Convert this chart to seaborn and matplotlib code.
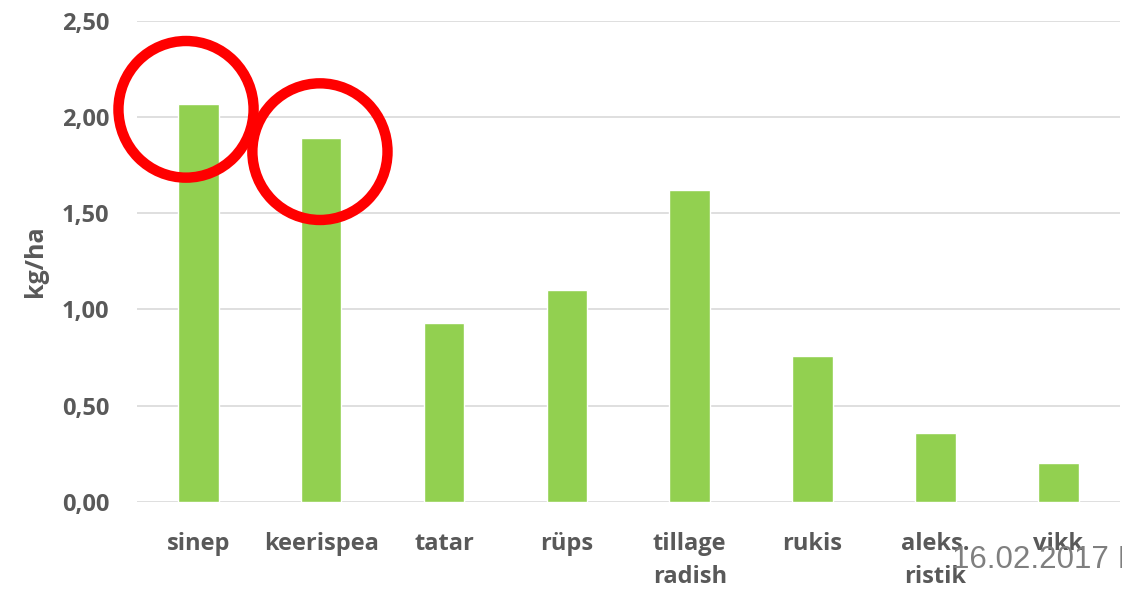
import matplotlib
matplotlib.use("Agg")
import matplotlib.pyplot as plt
from matplotlib.patches import Ellipse
from matplotlib.ticker import FuncFormatter, MultipleLocator
import pandas as pd
import seaborn as sns

# andmed
kultuurid = ["sinep", "keerispea", "tatar", "rüps", "tillage\nradish",
             "rukis", "aleks.\nristik", "vikk"]
kg_ha = [2.07, 1.89, 0.93, 1.10, 1.62, 0.76, 0.36, 0.20]
esile_tostetud = ["sinep", "keerispea"]
kuupaev = "16.02.2017 I"

df = pd.DataFrame({"kultuur": kultuurid, "kg_ha": kg_ha})

sns.set_theme(style="white")
plt.rcParams["font.family"] = ["Open Sans", "DejaVu Sans"]

fig = plt.figure(figsize=(11.22, 5.94), dpi=100)
ax = fig.add_axes([0.122, 0.155, 0.876, 0.81])

sns.barplot(data=df, x="kultuur", y="kg_ha", order=kultuurid,
            color="#92D050", width=0.33, saturation=1, ax=ax)

ax.set_xlim(-0.5, len(kultuurid) - 0.5)
ax.set_ylim(0, 2.5)
ax.yaxis.set_major_locator(MultipleLocator(0.5))
ax.yaxis.set_major_formatter(FuncFormatter(lambda v, p: f"{v:.2f}".replace(".", ",")))
ax.grid(axis="y", color="#d9d9d9", linewidth=1.2)
ax.set_axisbelow(True)
for s in ax.spines.values():
    s.set_visible(False)

ax.tick_params(axis="x", length=0, pad=22, labelsize=17, labelcolor="#595959")
ax.tick_params(axis="y", length=0, pad=20, labelsize=17, labelcolor="#595959")
for lbl in ax.get_xticklabels() + ax.get_yticklabels():
    lbl.set_fontweight("bold")
    lbl.set_linespacing(1.45)

ax.set_xlabel("")
ax.set_ylabel("kg/ha", fontsize=18, fontweight="bold", color="#595959", labelpad=10)

# punased ringid (nihe tulba tipust)
nihked = {"sinep": (-0.1, -0.03), "keerispea": (-0.01, -0.07)}
for nimi in esile_tostetud:
    i = kultuurid.index(nimi)
    dx, dy = nihked[nimi]
    ax.add_patch(Ellipse((i + dx, kg_ha[i] + dy), width=1.1, height=0.71,
                         fill=False, edgecolor="#ff0000", linewidth=7.5,
                         clip_on=False, zorder=5))

fig.text(952 / 1122, 1 - 560 / 594, kuupaev, fontsize=22.5, color="#7f7f7f",
         family=["Liberation Sans", "DejaVu Sans"], ha="left", va="center")

fig.savefig("out.png", dpi=100)
